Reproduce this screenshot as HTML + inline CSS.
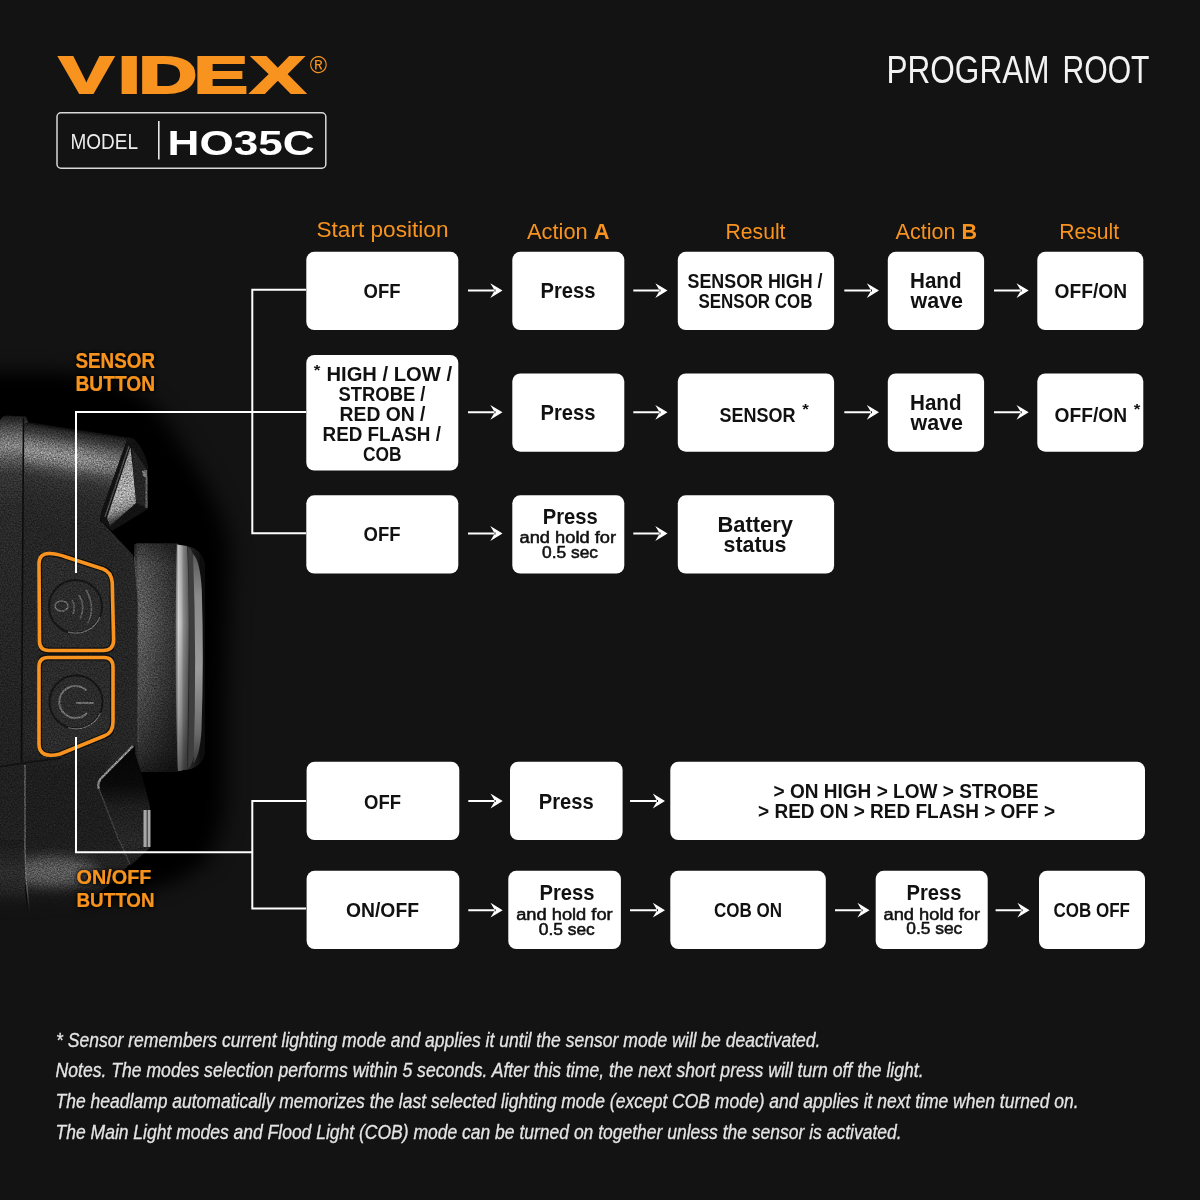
<!DOCTYPE html>
<html lang="en"><head><meta charset="utf-8"><title>VIDEX H035C Program Root</title>
<style>
html,body{margin:0;padding:0;background:#131313;}
body{width:1200px;height:1200px;overflow:hidden;}
svg{display:block;opacity:0.9999;font-family:"Liberation Sans",Arial,sans-serif;}
</style></head><body>
<svg width="1200" height="1200" viewBox="0 0 1200 1200">
<rect x="0" y="0" width="1200" height="1200" fill="#131313"/>
<defs>
<filter id="bl30" x="-50%" y="-50%" width="200%" height="200%"><feGaussianBlur stdDeviation="22"/></filter>
<filter id="bl1" x="-10%" y="-10%" width="120%" height="120%"><feGaussianBlur stdDeviation="0.7"/></filter>
<filter id="grain" x="0" y="0" width="100%" height="100%" color-interpolation-filters="sRGB">
<feGaussianBlur in="SourceGraphic" stdDeviation="0.7" result="b"/>
<feTurbulence type="fractalNoise" baseFrequency="0.7" numOctaves="3" seed="7" result="n"/>
<feColorMatrix in="n" type="matrix" values="1.5 0 0 0 -0.25  1.5 0 0 0 -0.25  1.5 0 0 0 -0.25  0 0 0 0 1" result="g"/>
<feComposite in="b" in2="g" operator="arithmetic" k1="0.8" k2="0.6" k3="0" k4="0"/>
</filter>
<filter id="bl3" x="-20%" y="-20%" width="140%" height="140%"><feGaussianBlur stdDeviation="3"/></filter>
<filter id="bl6" x="-30%" y="-30%" width="160%" height="160%"><feGaussianBlur stdDeviation="6"/></filter>
<linearGradient id="gBody" gradientUnits="userSpaceOnUse" x1="28" y1="422" x2="12.5" y2="522">
<stop offset="0" stop-color="#0c0c0c"/><stop offset="0.04" stop-color="#2a2a2a"/><stop offset="0.10" stop-color="#404040"/><stop offset="0.18" stop-color="#6c6c6c"/><stop offset="0.27" stop-color="#8c8c8c"/><stop offset="0.35" stop-color="#787878"/><stop offset="0.43" stop-color="#4c4c4c"/><stop offset="0.52" stop-color="#323232"/><stop offset="0.7" stop-color="#292929"/><stop offset="1" stop-color="#252525"/>
</linearGradient>
<linearGradient id="gBack" gradientUnits="userSpaceOnUse" x1="0" y1="415" x2="0" y2="780">
<stop offset="0" stop-color="#161616"/><stop offset="0.02" stop-color="#343434"/><stop offset="0.05" stop-color="#5e5e5e"/><stop offset="0.085" stop-color="#848484"/><stop offset="0.12" stop-color="#5a5a5a"/><stop offset="0.16" stop-color="#363636"/><stop offset="0.25" stop-color="#2a2a2a"/><stop offset="1" stop-color="#202020"/>
</linearGradient>
<linearGradient id="gBarrelH" x1="0" y1="0" x2="1" y2="0">
<stop offset="0" stop-color="#2e2e2e"/><stop offset="0.1" stop-color="#606060"/><stop offset="0.3" stop-color="#565656"/><stop offset="0.6" stop-color="#444"/><stop offset="0.9" stop-color="#333"/><stop offset="1" stop-color="#3a3a3a"/>
</linearGradient>
<linearGradient id="gBarrelV" x1="0" y1="0" x2="0" y2="1">
<stop offset="0" stop-color="#000" stop-opacity="0.45"/><stop offset="0.1" stop-color="#000" stop-opacity="0.12"/><stop offset="0.35" stop-color="#000" stop-opacity="0"/><stop offset="0.65" stop-color="#000" stop-opacity="0.2"/><stop offset="0.9" stop-color="#000" stop-opacity="0.5"/><stop offset="1" stop-color="#000" stop-opacity="0.7"/>
</linearGradient>
<linearGradient id="gStrip1" x1="0" y1="0" x2="1" y2="0">
<stop offset="0" stop-color="#6a6a6a"/><stop offset="0.22" stop-color="#d4d4d4"/><stop offset="0.45" stop-color="#b4b4b4"/><stop offset="0.6" stop-color="#8c8c8c"/><stop offset="1" stop-color="#5c5c5c"/>
</linearGradient>
<linearGradient id="gStripV" x1="0" y1="0" x2="0" y2="1">
<stop offset="0" stop-color="#000" stop-opacity="0.1"/><stop offset="0.35" stop-color="#000" stop-opacity="0"/><stop offset="0.75" stop-color="#000" stop-opacity="0.25"/><stop offset="1" stop-color="#000" stop-opacity="0.55"/>
</linearGradient>
<linearGradient id="gFacet" gradientUnits="userSpaceOnUse" x1="112" y1="470" x2="134" y2="520">
<stop offset="0" stop-color="#969696"/><stop offset="0.5" stop-color="#aaaaaa"/><stop offset="0.72" stop-color="#8a8a8a"/><stop offset="0.86" stop-color="#444"/><stop offset="1" stop-color="#1c1c1c"/>
</linearGradient>
<linearGradient id="gBodyX" gradientUnits="userSpaceOnUse" x1="80" y1="0" x2="128" y2="0">
<stop offset="0" stop-color="#1c1c1c" stop-opacity="0"/><stop offset="1" stop-color="#1c1c1c" stop-opacity="0.2"/>
</linearGradient>
<linearGradient id="gHinge" gradientUnits="userSpaceOnUse" x1="0" y1="838" x2="4" y2="930">
<stop offset="0" stop-color="#1d1d1d"/><stop offset="0.4" stop-color="#222"/><stop offset="0.62" stop-color="#1e1e1e"/><stop offset="0.8" stop-color="#161616"/><stop offset="1" stop-color="#101010"/>
</linearGradient>
<clipPath id="cpH"><path d="M25 838H118L130 864L112 882L78 910L32 930Q27 900 25 880Z"/></clipPath>
<linearGradient id="gHingeL" gradientUnits="userSpaceOnUse" x1="0" y1="840" x2="0" y2="930">
<stop offset="0" stop-color="#1a1a1a"/><stop offset="0.35" stop-color="#2c2c2c"/><stop offset="0.6" stop-color="#262626"/><stop offset="0.8" stop-color="#181818"/><stop offset="1" stop-color="#101010"/>
</linearGradient>
<linearGradient id="gFinB" gradientUnits="userSpaceOnUse" x1="0" y1="748" x2="0" y2="868">
<stop offset="0" stop-color="#050505"/><stop offset="0.3" stop-color="#0a0a0a"/><stop offset="0.5" stop-color="#1e1e1e"/><stop offset="0.8" stop-color="#282828"/><stop offset="1" stop-color="#161616"/>
</linearGradient>
<linearGradient id="gLens" x1="0" y1="0" x2="1" y2="0">
<stop offset="0" stop-color="#2c2c2c"/><stop offset="1" stop-color="#000"/>
</linearGradient>
<linearGradient id="gStrip2" x1="0" y1="0" x2="0" y2="1">
<stop offset="0" stop-color="#5a5a5a"/><stop offset="0.2" stop-color="#8a8a8a"/><stop offset="0.55" stop-color="#9c9c9c"/><stop offset="0.85" stop-color="#6a6a6a"/><stop offset="1" stop-color="#3a3a3a"/>
</linearGradient>
<linearGradient id="gLow" gradientUnits="userSpaceOnUse" x1="0" y1="745" x2="0" y2="846">
<stop offset="0" stop-color="#0c0c0c" stop-opacity="0"/><stop offset="0.25" stop-color="#0c0c0c" stop-opacity="0.3"/><stop offset="1" stop-color="#0c0c0c" stop-opacity="0.3"/>
</linearGradient>
<filter id="blm" filterUnits="userSpaceOnUse" x="-150" y="300" width="500" height="700"><feGaussianBlur stdDeviation="11 9"/></filter>
</defs>
<!-- photo area with feathered mask -->
<mask id="pm" maskUnits="userSpaceOnUse" x="-10" y="300" width="340" height="700"><path d="M-80 372L60 372Q120 378 150 402Q168 420 178 440L200 474Q215 498 226 530Q232 560 228 600L225 700V790Q224 840 203 864Q180 884 130 894L60 898H-80Z" fill="#fff" filter="url(#blm)"/></mask>
<g mask="url(#pm)">
<rect x="-10" y="300" width="340" height="700" fill="#000"/>
<g filter="url(#grain)">
<!-- back plate -->

<!-- hinge / lower body -->
<!-- main body -->
<path d="M24 418L28 422L128 437.5L101 513L100 521L133 556L137 600V742L133 748L100 780L98 788L121 846H-2V430Z" fill="url(#gBody)"/>
<path d="M-2 745H120L100 780L98 788L121 846H-2Z" fill="url(#gLow)"/>
<path d="M25 838H118L130 864L112 882L78 910L32 930Q27 900 25 880Z" fill="url(#gHinge)"/>
<g clip-path="url(#cpH)"><ellipse cx="52" cy="872" rx="46" ry="15" fill="#585858" filter="url(#bl6)"/></g>
<path d="M80 430L128 437.5L112 482H80Z" fill="url(#gBodyX)"/>
<path d="M-2 426Q0 416 6 415.5L26 416.5L28 422L24 424V846H-2Z" fill="url(#gBack)"/>
<path d="M-2 840H25V884Q26 910 30 930H-2Z" fill="url(#gHingeL)"/>
<path d="M23.5 418L21.5 762" stroke="#0c0c0c" stroke-width="1.6" fill="none"/>
<!-- barrel -->
<path d="M134 546Q134 543.5 137 543.5H178V772H138Q135 772 135 769Z" fill="url(#gBarrelH)"/>
<path d="M134 546Q134 543.5 137 543.5H178V772H138Q135 772 135 769Z" fill="url(#gBarrelV)"/>
<!-- body side bevel -->
<path d="M101 521L133 555L138 600V742L133 748L129 742V600L126 560L100 527Z" fill="#262626"/>
<path d="M134.5 557L138 600V742" stroke="#4c4c4c" stroke-width="1" fill="none"/>
<!-- top fin -->
<path d="M128 437L134 439Q144 448 148 466V509L112 531L101 521V513Z" fill="#121212"/>
<path d="M132 448L146.5 469V508L136 503Z" fill="#242424"/>
<path d="M130.4 447.5L133 470L136 503L110 526L107 518Z" fill="url(#gFacet)"/>
<path d="M129 446L105 517" stroke="#4a4a4a" stroke-width="1.4" fill="none"/>
<path d="M146.5 476V508" stroke="#5e5e5e" stroke-width="2" fill="none"/>
<path d="M142 471L147 470V478L143 476Z" fill="#777"/>
<!-- bottom fin -->
<path d="M133 748L100 780L98 788L130 866L150 848V806L140 768Z" fill="url(#gFinB)"/>
<path d="M133 746L100.5 779Q97 784 99 789" stroke="#8a8a8a" stroke-width="2.2" fill="none"/>
<path d="M99 789L118 838L130 864" stroke="#3c3c3c" stroke-width="1.5" fill="none"/>
<!-- seams -->
<path d="M-2 767L27 762.5L62 758" stroke="#111" stroke-width="1.4" fill="none"/>
<path d="M25 765V850Q25.5 880 30 915" stroke="#6a6a6a" stroke-width="1.2" fill="none"/>
</g>
<!-- lens dark -->
<g filter="url(#bl1)">
<path d="M143.5 810H150.5V847H143.5Z" fill="#a8a8a8"/>
<path d="M146.5 810H148V847H146.5Z" fill="#555"/>
<path d="M186 546Q202 548 206 566Q211 660 206 752Q202 768 186 770Z" fill="url(#gLens)"/>
<path d="M176.8 544.5L187 546Q189.5 600 188.5 660Q188 720 186.5 769.5L178 771Q176 720 175.6 660Q175.5 600 176.8 544.5Z" fill="url(#gStrip1)"/>
<path d="M176.8 544.5L187 546Q189.5 600 188.5 660Q188 720 186.5 769.5L178 771Q176 720 175.6 660Q175.5 600 176.8 544.5Z" fill="url(#gStripV)"/>
<path d="M188 547Q192 548 194.5 560Q197 660 194.5 752Q193 764 188 769Q190.5 660 188 547Z" fill="#3c3c3c"/>
<path d="M193 554Q200 560 201.8 590Q204 660 201.5 730Q200 754 193.5 764Q197 660 193 554Z" fill="url(#gStrip2)"/>
</g>
<!-- buttons -->
<g fill="none" filter="url(#grain)">
<path d="M50 553.5Q60 554.5 66 557L103 569Q111 572 112.2 582L113.6 640Q113.6 650.5 103 650.5H49Q39.5 650.5 39.5 641L39 564Q39 553 50 553.5Z" fill="#2b2b2b" stroke="#111" stroke-width="6"/>
<path d="M48 657.5H104Q113 657.5 113 667V722Q113 733 104 736L60 754Q39 759 39 744V667Q39 657.5 48 657.5Z" fill="#2b2b2b" stroke="#111" stroke-width="6"/>
<circle cx="75.5" cy="606.5" r="26.5" stroke="#151515" stroke-width="2"/>
<path d="M100 617A26.5 26.5 0 0 1 68 632" stroke="#6a6a6a" stroke-width="1.3"/>
<circle cx="76" cy="702" r="26.5" stroke="#151515" stroke-width="2"/>
<path d="M100.5 713A26.5 26.5 0 0 1 68 727.5" stroke="#6a6a6a" stroke-width="1.3"/>
<ellipse cx="61.5" cy="606" rx="6.5" ry="5" stroke="#6a6a6a" stroke-width="1.5"/>
<path d="M72 600Q76 607 73 614M79 595Q86 607 80 619M86 590Q96 607 88 623" stroke="#5e5e5e" stroke-width="1.6"/>
<path d="M86.5 690.5A16 16 0 1 0 87 713" stroke="#6a6a6a" stroke-width="2"/>
<path d="M76 703H94" stroke="#7a7a7a" stroke-width="1.6"/>
</g>
<g fill="none" stroke="#f7931e" stroke-width="3.6" stroke-linejoin="round">
<path d="M50 553.5Q60 554.5 66 557L103 569Q111 572 112.2 582L113.6 640Q113.6 650.5 103 650.5H49Q39.5 650.5 39.5 641L39 564Q39 553 50 553.5Z"/>
<path d="M48 657.5H104Q113 657.5 113 667V722Q113 733 104 736L60 754Q39 759 39 744V667Q39 657.5 48 657.5Z"/>
</g>
</g>

<path d="M306 289.8H252.3V533.3H306M252.3 412H306" fill="none" stroke="#fff" stroke-width="2"/>
<path d="M76 573V412H253" fill="none" stroke="#fff" stroke-width="2"/>
<path d="M306 801H252.3V908.5H306" fill="none" stroke="#fff" stroke-width="2"/>
<path d="M76 737V852.3H252.3" fill="none" stroke="#fff" stroke-width="2"/>
<text transform="translate(0,92.6) scale(1.58,1)" x="37.46 74.76 87.64 122.61 158.69" y="0" font-size="51.3" font-weight="bold" fill="#f7931e" stroke="#f7931e" stroke-width="2.2" stroke-linejoin="miter">VIDEX</text>
<text x="309.8" y="72.8" font-size="23.5" font-weight="normal" fill="#f7931e" text-anchor="start">®</text>
<rect x="57" y="112.8" width="268.8" height="55.4" rx="4" fill="none" stroke="#d9d9d9" stroke-width="1.5"/>
<rect x="158" y="121" width="1.6" height="38.5" fill="#e6e6e6"/>
<text x="70.5" y="148.8" font-size="22.5" font-weight="normal" fill="#ececec" text-anchor="start" textLength="67.5" lengthAdjust="spacingAndGlyphs">MODEL</text>
<text x="167.6" y="154.6" font-size="35.2" font-weight="bold" fill="#fff" text-anchor="start" textLength="147" lengthAdjust="spacingAndGlyphs">HO35C</text>
<text y="82.5" font-size="38.5" fill="#f2f2f2"><tspan x="886.5" textLength="163" lengthAdjust="spacingAndGlyphs">PROGRAM</tspan> <tspan x="1062.5" textLength="87" lengthAdjust="spacingAndGlyphs">ROOT</tspan></text>
<text x="316.5" y="237" font-size="21.5" font-weight="normal" fill="#f7931e" text-anchor="start" textLength="132" lengthAdjust="spacingAndGlyphs">Start position</text>
<text x="527" y="238.5" font-size="21.5" fill="#f7931e" textLength="82.5" lengthAdjust="spacingAndGlyphs">Action <tspan font-weight="bold">A</tspan></text>
<text x="725.5" y="238.5" font-size="21.5" font-weight="normal" fill="#f7931e" text-anchor="start" textLength="60" lengthAdjust="spacingAndGlyphs">Result</text>
<text x="895.5" y="238.5" font-size="21.5" fill="#f7931e" textLength="81.5" lengthAdjust="spacingAndGlyphs">Action <tspan font-weight="bold">B</tspan></text>
<text x="1059.2" y="238.5" font-size="21.5" font-weight="normal" fill="#f7931e" text-anchor="start" textLength="60" lengthAdjust="spacingAndGlyphs">Result</text>
<defs><filter id="lsh" x="-20%" y="-30%" width="140%" height="160%"><feGaussianBlur in="SourceAlpha" stdDeviation="2.5" result="b"/><feColorMatrix in="b" type="matrix" values="0 0 0 0 0 0 0 0 0 0 0 0 0 0 0 0 0 0 1.6 0" result="s"/><feMerge><feMergeNode in="s"/><feMergeNode in="SourceGraphic"/></feMerge></filter></defs>
<g filter="url(#lsh)">
<text x="75.5" y="368.3" font-size="21.5" font-weight="bold" fill="#f7931e" text-anchor="start" textLength="79.5" lengthAdjust="spacingAndGlyphs">SENSOR</text>
<text x="75.5" y="390.7" font-size="21.5" font-weight="bold" fill="#f7931e" text-anchor="start" textLength="79.5" lengthAdjust="spacingAndGlyphs">BUTTON</text>
<text x="76.5" y="883.6" font-size="21" font-weight="bold" fill="#f7931e" text-anchor="start" textLength="75" lengthAdjust="spacingAndGlyphs">ON/OFF</text>
<text x="76.5" y="906.6" font-size="21" font-weight="bold" fill="#f7931e" text-anchor="start" textLength="78" lengthAdjust="spacingAndGlyphs">BUTTON</text>
</g>
<rect x="306.3" y="251.8" width="152" height="78.2" rx="8" ry="8" fill="#fff"/>
<rect x="512.3" y="251.8" width="112" height="78.2" rx="8" ry="8" fill="#fff"/>
<rect x="677.8" y="251.8" width="156.3" height="78.2" rx="8" ry="8" fill="#fff"/>
<rect x="887.8" y="251.8" width="96.3" height="78.2" rx="8" ry="8" fill="#fff"/>
<rect x="1037.3" y="251.8" width="106" height="78.2" rx="8" ry="8" fill="#fff"/>
<path d="M468 289.6H495.5V291.6H468ZM502.5 290.6L490.3 283.2L494.7 290.6L490.3 298.0Z" fill="#fff"/>
<path d="M633.3 289.6H660.5V291.6H633.3ZM667.5 290.6L655.3 283.2L659.7 290.6L655.3 298.0Z" fill="#fff"/>
<path d="M844.3 289.6H872V291.6H844.3ZM879 290.6L866.8 283.2L871.2 290.6L866.8 298.0Z" fill="#fff"/>
<path d="M994 289.6H1021.7V291.6H994ZM1028.7 290.6L1016.5 283.2L1020.9 290.6L1016.5 298.0Z" fill="#fff"/>
<text x="363.5" y="297.8" font-size="20.5" font-weight="bold" fill="#111" text-anchor="start" textLength="37" lengthAdjust="spacingAndGlyphs">OFF</text>
<text x="540.5" y="298" font-size="21.6" font-weight="bold" fill="#111" text-anchor="start" textLength="55" lengthAdjust="spacingAndGlyphs">Press</text>
<text x="687.5" y="287.6" font-size="20.5" font-weight="bold" fill="#111" text-anchor="start" textLength="135" lengthAdjust="spacingAndGlyphs">SENSOR HIGH /</text>
<text x="698.5" y="308.3" font-size="20.5" font-weight="bold" fill="#111" text-anchor="start" textLength="114" lengthAdjust="spacingAndGlyphs">SENSOR COB</text>
<text x="910" y="287.7" font-size="21.6" font-weight="bold" fill="#111" text-anchor="start" textLength="51.5" lengthAdjust="spacingAndGlyphs">Hand</text>
<text x="910.5" y="308.3" font-size="21.6" font-weight="bold" fill="#111" text-anchor="start" textLength="52.5" lengthAdjust="spacingAndGlyphs">wave</text>
<text x="1054.5" y="298.3" font-size="20.5" font-weight="bold" fill="#111" text-anchor="start" textLength="72.5" lengthAdjust="spacingAndGlyphs">OFF/ON</text>
<rect x="306.3" y="355" width="152" height="115.6" rx="8" ry="8" fill="#fff"/>
<rect x="512.3" y="373.5" width="112" height="78.2" rx="8" ry="8" fill="#fff"/>
<rect x="677.8" y="373.5" width="156.3" height="78.2" rx="8" ry="8" fill="#fff"/>
<rect x="887.8" y="373.5" width="96.3" height="78.2" rx="8" ry="8" fill="#fff"/>
<rect x="1037.3" y="373.5" width="106" height="78.2" rx="8" ry="8" fill="#fff"/>
<path d="M468 411.3H495.5V413.3H468ZM502.5 412.3L490.3 404.9L494.7 412.3L490.3 419.7Z" fill="#fff"/>
<path d="M633.3 411.3H660.5V413.3H633.3ZM667.5 412.3L655.3 404.9L659.7 412.3L655.3 419.7Z" fill="#fff"/>
<path d="M844.3 411.3H872V413.3H844.3ZM879 412.3L866.8 404.9L871.2 412.3L866.8 419.7Z" fill="#fff"/>
<path d="M994 411.3H1021.7V413.3H994ZM1028.7 412.3L1016.5 404.9L1020.9 412.3L1016.5 419.7Z" fill="#fff"/>
<text x="313.8" y="374.6" font-size="15.5" font-weight="bold" fill="#111" text-anchor="start" textLength="6.6" lengthAdjust="spacingAndGlyphs">*</text>
<text x="326.5" y="380.6" font-size="20.5" font-weight="bold" fill="#111" text-anchor="start" textLength="125.5" lengthAdjust="spacingAndGlyphs">HIGH / LOW /</text>
<text x="338.5" y="400.7" font-size="20.5" font-weight="bold" fill="#111" text-anchor="start" textLength="87" lengthAdjust="spacingAndGlyphs">STROBE /</text>
<text x="339.5" y="420.7" font-size="20.5" font-weight="bold" fill="#111" text-anchor="start" textLength="86" lengthAdjust="spacingAndGlyphs">RED ON /</text>
<text x="322.5" y="440.7" font-size="20.5" font-weight="bold" fill="#111" text-anchor="start" textLength="118.5" lengthAdjust="spacingAndGlyphs">RED FLASH /</text>
<text x="363" y="460.7" font-size="20.5" font-weight="bold" fill="#111" text-anchor="start" textLength="38.5" lengthAdjust="spacingAndGlyphs">COB</text>
<text x="540.5" y="420.3" font-size="21.6" font-weight="bold" fill="#111" text-anchor="start" textLength="55" lengthAdjust="spacingAndGlyphs">Press</text>
<text x="719.5" y="421.5" font-size="20.5" font-weight="bold" fill="#111" text-anchor="start" textLength="76" lengthAdjust="spacingAndGlyphs">SENSOR</text>
<text x="802.3" y="414" font-size="15.5" font-weight="bold" fill="#111" text-anchor="start" textLength="6.6" lengthAdjust="spacingAndGlyphs">*</text>
<text x="910" y="410" font-size="21.6" font-weight="bold" fill="#111" text-anchor="start" textLength="51.5" lengthAdjust="spacingAndGlyphs">Hand</text>
<text x="910.5" y="430.3" font-size="21.6" font-weight="bold" fill="#111" text-anchor="start" textLength="52.5" lengthAdjust="spacingAndGlyphs">wave</text>
<text x="1054.5" y="421.5" font-size="20.5" font-weight="bold" fill="#111" text-anchor="start" textLength="72.5" lengthAdjust="spacingAndGlyphs">OFF/ON</text>
<text x="1133.8" y="413.6" font-size="15.5" font-weight="bold" fill="#111" text-anchor="start" textLength="6.6" lengthAdjust="spacingAndGlyphs">*</text>
<rect x="306.3" y="495.3" width="152" height="78.2" rx="8" ry="8" fill="#fff"/>
<rect x="512.3" y="495.3" width="112" height="78.2" rx="8" ry="8" fill="#fff"/>
<rect x="677.8" y="495.3" width="156.3" height="78.2" rx="8" ry="8" fill="#fff"/>
<path d="M468 532.5H495.5V534.5H468ZM502.5 533.5L490.3 526.1L494.7 533.5L490.3 540.9Z" fill="#fff"/>
<path d="M633.3 532.5H660.5V534.5H633.3ZM667.5 533.5L655.3 526.1L659.7 533.5L655.3 540.9Z" fill="#fff"/>
<text x="363.5" y="541" font-size="20.5" font-weight="bold" fill="#111" text-anchor="start" textLength="37" lengthAdjust="spacingAndGlyphs">OFF</text>
<text x="542.8" y="524.3" font-size="21.6" font-weight="bold" fill="#111" text-anchor="start" textLength="55" lengthAdjust="spacingAndGlyphs">Press</text>
<text x="519.5" y="543.3" font-size="17.3" font-weight="normal" fill="#111" text-anchor="start" textLength="96.5" lengthAdjust="spacingAndGlyphs" stroke="#111" stroke-width="0.55">and hold for</text>
<text x="542" y="558.3" font-size="16.6" font-weight="normal" fill="#111" text-anchor="start" textLength="56" lengthAdjust="spacingAndGlyphs" stroke="#111" stroke-width="0.55">0.5 sec</text>
<text x="717.5" y="531.7" font-size="21.6" font-weight="bold" fill="#111" text-anchor="start" textLength="75.5" lengthAdjust="spacingAndGlyphs">Battery</text>
<text x="723.5" y="551.7" font-size="21.6" font-weight="bold" fill="#111" text-anchor="start" textLength="63" lengthAdjust="spacingAndGlyphs">status</text>
<rect x="306.6" y="761.8" width="152.7" height="78.2" rx="8" ry="8" fill="#fff"/>
<rect x="510" y="761.8" width="112.6" height="78.2" rx="8" ry="8" fill="#fff"/>
<rect x="670.3" y="761.8" width="474.7" height="78.2" rx="8" ry="8" fill="#fff"/>
<path d="M468.3 800H495.7V802H468.3ZM502.7 801L490.5 793.6L494.9 801L490.5 808.4Z" fill="#fff"/>
<path d="M630 800H658V802H630ZM665 801L652.8 793.6L657.2 801L652.8 808.4Z" fill="#fff"/>
<text x="364" y="808.8" font-size="20.5" font-weight="bold" fill="#111" text-anchor="start" textLength="37" lengthAdjust="spacingAndGlyphs">OFF</text>
<text x="538.8" y="808.5" font-size="21.6" font-weight="bold" fill="#111" text-anchor="start" textLength="55" lengthAdjust="spacingAndGlyphs">Press</text>
<text x="773.5" y="798.3" font-size="20.5" font-weight="bold" fill="#111" text-anchor="start" textLength="265" lengthAdjust="spacingAndGlyphs">&gt; ON HIGH &gt; LOW &gt; STROBE</text>
<text x="758" y="818.4" font-size="20.5" font-weight="bold" fill="#111" text-anchor="start" textLength="297" lengthAdjust="spacingAndGlyphs">&gt; RED ON &gt; RED FLASH &gt; OFF &gt;</text>
<rect x="306.6" y="870.8" width="152.7" height="78.2" rx="8" ry="8" fill="#fff"/>
<rect x="508.3" y="870.8" width="112.6" height="78.2" rx="8" ry="8" fill="#fff"/>
<rect x="670.3" y="870.8" width="155.5" height="78.2" rx="8" ry="8" fill="#fff"/>
<rect x="875.7" y="870.8" width="112" height="78.2" rx="8" ry="8" fill="#fff"/>
<rect x="1039" y="870.8" width="106" height="78.2" rx="8" ry="8" fill="#fff"/>
<path d="M468.3 909.2H495.7V911.2H468.3ZM502.7 910.2L490.5 902.8L494.9 910.2L490.5 917.6Z" fill="#fff"/>
<path d="M630 909.2H658V911.2H630ZM665 910.2L652.8 902.8L657.2 910.2L652.8 917.6Z" fill="#fff"/>
<path d="M835 909.2H862.6V911.2H835ZM869.6 910.2L857.4 902.8L861.8 910.2L857.4 917.6Z" fill="#fff"/>
<path d="M995.6 909.2H1022.6V911.2H995.6ZM1029.6 910.2L1017.4 902.8L1021.8 910.2L1017.4 917.6Z" fill="#fff"/>
<text x="346" y="917.3" font-size="20.5" font-weight="bold" fill="#111" text-anchor="start" textLength="73" lengthAdjust="spacingAndGlyphs">ON/OFF</text>
<text x="539.5" y="900" font-size="21.6" font-weight="bold" fill="#111" text-anchor="start" textLength="55" lengthAdjust="spacingAndGlyphs">Press</text>
<text x="516.2" y="920" font-size="17.3" font-weight="normal" fill="#111" text-anchor="start" textLength="96.5" lengthAdjust="spacingAndGlyphs" stroke="#111" stroke-width="0.55">and hold for</text>
<text x="538.8" y="935" font-size="16.6" font-weight="normal" fill="#111" text-anchor="start" textLength="56" lengthAdjust="spacingAndGlyphs" stroke="#111" stroke-width="0.55">0.5 sec</text>
<text x="714" y="917.3" font-size="20.5" font-weight="bold" fill="#111" text-anchor="start" textLength="68" lengthAdjust="spacingAndGlyphs">COB ON</text>
<text x="906.5" y="900" font-size="21.6" font-weight="bold" fill="#111" text-anchor="start" textLength="55" lengthAdjust="spacingAndGlyphs">Press</text>
<text x="883.5" y="919.7" font-size="17.3" font-weight="normal" fill="#111" text-anchor="start" textLength="96.5" lengthAdjust="spacingAndGlyphs" stroke="#111" stroke-width="0.55">and hold for</text>
<text x="906.3" y="934.3" font-size="16.6" font-weight="normal" fill="#111" text-anchor="start" textLength="56" lengthAdjust="spacingAndGlyphs" stroke="#111" stroke-width="0.55">0.5 sec</text>
<text x="1053.5" y="917.3" font-size="20.5" font-weight="bold" fill="#111" text-anchor="start" textLength="76.5" lengthAdjust="spacingAndGlyphs">COB OFF</text>
<text x="56" y="1046.5" font-size="19.5" font-weight="normal" fill="#e4e4e4" font-style="italic" text-anchor="start" textLength="764.5" lengthAdjust="spacingAndGlyphs" stroke="#e4e4e4" stroke-width="0.3">* Sensor remembers current lighting mode and applies it until the sensor mode will be deactivated.</text>
<text x="55.6" y="1076.5" font-size="19.5" font-weight="normal" fill="#e4e4e4" font-style="italic" text-anchor="start" textLength="868" lengthAdjust="spacingAndGlyphs" stroke="#e4e4e4" stroke-width="0.3">Notes. The modes selection performs within 5 seconds. After this time, the next short press will turn off the light.</text>
<text x="55.6" y="1107.5" font-size="19.5" font-weight="normal" fill="#e4e4e4" font-style="italic" text-anchor="start" textLength="1023" lengthAdjust="spacingAndGlyphs" stroke="#e4e4e4" stroke-width="0.3">The headlamp automatically memorizes the last selected lighting mode (except COB mode) and applies it next time when turned on.</text>
<text x="55.6" y="1138.5" font-size="19.5" font-weight="normal" fill="#e4e4e4" font-style="italic" text-anchor="start" textLength="846" lengthAdjust="spacingAndGlyphs" stroke="#e4e4e4" stroke-width="0.3">The Main Light modes and Flood Light (COB) mode can be turned on together unless the sensor is activated.</text>
</svg>
</body></html>
